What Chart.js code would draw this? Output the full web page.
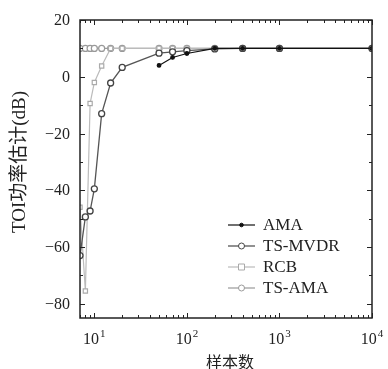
<!DOCTYPE html>
<html>
<head>
<meta charset="utf-8">
<script src="https://cdn.jsdelivr.net/npm/chart.js@4.4.1/dist/chart.umd.min.js"></script>
<style>
  html, body { margin: 0; padding: 0; background: #fff; }
  #wrap { width: 388px; height: 369px; position: relative; }
</style>
</head>
<body>
<div id="wrap"><canvas id="toiChart"></canvas></div>
<script>
// sample counts (x) and estimated TOI power (dB) per method
const sampleCounts = [7, 8, 9, 10, 12, 15, 20, 50, 70, 100, 200, 400, 1000, 10000];
const amaCounts = [50, 70, 100, 200, 400, 1000, 10000];
const amaValues = [4, 6.8, 8.2, 10, 10, 10, 10];
const tsMvdrValues = [-63, -49.4, -47.3, -39.5, -13, -2.2, 3.3, 8.3, 8.8, 9.2, 9.8, 10, 10, 10];
const rcbValues = [-46, -75.5, -9.4, -2, 3.8, 10, 10, 10, 10, 10, 10, 10, 10, 10];
const tsAmaValues = [10, 10, 10, 10, 10, 10, 10, 10, 10, 10, 10, 10, 10, 10];

const seriesNames = ['AMA', 'TS-MVDR', 'RCB', 'TS-AMA'];
const yTicks = [-80, -60, -40, -20, 0, 20];
const yMinorTicks = [-70, -50, -30, -10, 10];
const xDecades = [10, 100, 1000, 10000];
const xTickLabels = ['1', '2', '3', '4'];  // exponents of 10

const yTitle = 'TOI功率估计(dB)';
const xTitle = '样本数';

const serif = '"Liberation Serif", "DejaVu Serif", serif';
const cjk = '"Liberation Serif", "Noto Sans CJK SC", sans-serif';

function pairs(xs, ys) {
    return xs.map((x, i) => ({ x: x, y: ys[i] }));
}

// frame, inward ticks, tick labels, axis titles and legend
const axesPlugin = {
    id: 'axesPlugin',
    afterDraw(chart) {
        const ctx = chart.ctx;
        const a = chart.chartArea;
        const xs = chart.scales.x;
        const ys = chart.scales.y;
        ctx.save();
        ctx.strokeStyle = '#222';
        ctx.lineWidth = 1.5;
        ctx.strokeRect(a.left, a.top, a.right - a.left, a.bottom - a.top);

        ctx.lineWidth = 1;
        ctx.beginPath();
        yTicks.forEach(v => {
            const p = Math.round(ys.getPixelForValue(v)) + 0.5;
            ctx.moveTo(a.left, p); ctx.lineTo(a.left + 5, p);
            ctx.moveTo(a.right, p); ctx.lineTo(a.right - 5, p);
        });
        yMinorTicks.forEach(v => {
            const p = Math.round(ys.getPixelForValue(v)) + 0.5;
            ctx.moveTo(a.left, p); ctx.lineTo(a.left + 3, p);
            ctx.moveTo(a.right, p); ctx.lineTo(a.right - 3, p);
        });
        for (let d = 1; d <= 10000; d *= 10) {
            for (let m = 1; m <= 9; m++) {
                const v = d * m;
                if (v < xs.min || v > xs.max) continue;
                const p = Math.round(xs.getPixelForValue(v)) + 0.5;
                const len = m === 1 ? 5 : 3;
                ctx.moveTo(p, a.bottom); ctx.lineTo(p, a.bottom - len);
                ctx.moveTo(p, a.top); ctx.lineTo(p, a.top + len);
            }
        }
        ctx.stroke();

        // y tick labels
        ctx.fillStyle = '#222';
        ctx.font = '16px ' + serif;
        ctx.textAlign = 'right';
        ctx.textBaseline = 'middle';
        yTicks.forEach(v => {
            const txt = v < 0 ? '\u2212' + Math.abs(v) : String(v);
            ctx.fillText(txt, a.left - 10, ys.getPixelForValue(v) + 1);
        });

        // x tick labels 10^n
        ctx.textBaseline = 'alphabetic';
        ctx.textAlign = 'left';
        xDecades.forEach((v, i) => {
            const px = xs.getPixelForValue(v);
            ctx.font = '16px ' + serif;
            const bw = ctx.measureText('10').width;
            ctx.font = '11px ' + serif;
            const ew = ctx.measureText(xTickLabels[i]).width;
            const x0 = px - (bw + ew + 1) / 2;
            ctx.font = '16px ' + serif;
            ctx.fillText('10', x0, a.bottom + 26);
            ctx.font = '11px ' + serif;
            ctx.fillText(xTickLabels[i], x0 + bw + 1, a.bottom + 19);
        });

        // axis titles
        ctx.font = '16px ' + cjk;
        ctx.textAlign = 'center';
        ctx.textBaseline = 'middle';
        ctx.fillText(xTitle, 230, a.bottom + 46);
        ctx.save();
        ctx.translate(20, 162);
        ctx.rotate(-Math.PI / 2);
        ctx.font = '19px ' + cjk;
        ctx.fillText(yTitle, 0, 0);
        ctx.restore();

        // legend
        const rowY = [225, 246, 267, 288];
        chart.data.datasets.forEach((ds, i) => {
            const y = rowY[i];
            ctx.strokeStyle = ds.borderColor;
            ctx.lineWidth = ds.borderWidth;
            ctx.beginPath();
            ctx.moveTo(228, y); ctx.lineTo(255, y);
            ctx.stroke();
            ctx.fillStyle = ds.pointBackgroundColor;
            ctx.strokeStyle = ds.pointBorderColor;
            ctx.lineWidth = 1;
            ctx.beginPath();
            if (ds.pointStyle === 'rect') {
                const r = ds.pointRadius;
                ctx.rect(241.5 - r, y - r, 2 * r, 2 * r);
            } else {
                ctx.arc(241.5, y, ds.pointRadius, 0, Math.PI * 2);
            }
            ctx.fill();
            ctx.stroke();
            ctx.fillStyle = '#222';
            ctx.font = '17px ' + serif;
            ctx.textAlign = 'left';
            ctx.fillText(ds.label, 263, y + 1);
        });
        ctx.restore();
    }
};

const datasets = [
    {
        label: seriesNames[0],
        data: pairs(amaCounts, amaValues),
        borderColor: '#111',
        borderWidth: 1.2,
        pointStyle: 'circle',
        pointRadius: 1.8,
        pointBackgroundColor: '#111',
        pointBorderColor: '#111'
    },
    {
        label: seriesNames[1],
        data: pairs(sampleCounts, tsMvdrValues),
        borderColor: '#555',
        borderWidth: 1.3,
        pointStyle: 'circle',
        pointRadius: 3,
        pointBackgroundColor: '#fff',
        pointBorderColor: '#444'
    },
    {
        label: seriesNames[2],
        data: pairs(sampleCounts, rcbValues),
        borderColor: '#bbb',
        borderWidth: 1.2,
        pointStyle: 'rect',
        pointRadius: 3,
        pointBackgroundColor: '#fff',
        pointBorderColor: '#aaa'
    },
    {
        label: seriesNames[3],
        data: pairs(sampleCounts, tsAmaValues),
        borderColor: '#999',
        borderWidth: 1.2,
        pointStyle: 'circle',
        pointRadius: 3,
        pointBackgroundColor: '#fff',
        pointBorderColor: '#999'
    }
];

new Chart(document.getElementById('toiChart').getContext('2d'), {
    type: 'line',
    data: { datasets: datasets },
    options: {
        responsive: true,
        maintainAspectRatio: false,
        animation: false,
        layout: { padding: { left: 0, right: 16, top: 20, bottom: 0 } },
        plugins: {
            legend: { display: false },
            tooltip: { enabled: false }
        },
        elements: { line: { tension: 0 } },
        scales: {
            x: {
                type: 'logarithmic',
                min: 7,
                max: 10000,
                grid: { display: false, drawTicks: false },
                border: { display: false },
                ticks: { display: false },
                afterFit: scale => { scale.height = 51; }
            },
            y: {
                type: 'linear',
                min: -85,
                max: 20,
                grid: { display: false, drawTicks: false },
                border: { display: false },
                ticks: { display: false },
                afterFit: scale => { scale.width = 80; }
            }
        }
    },
    plugins: [axesPlugin]
});
</script>
</body>
</html>
